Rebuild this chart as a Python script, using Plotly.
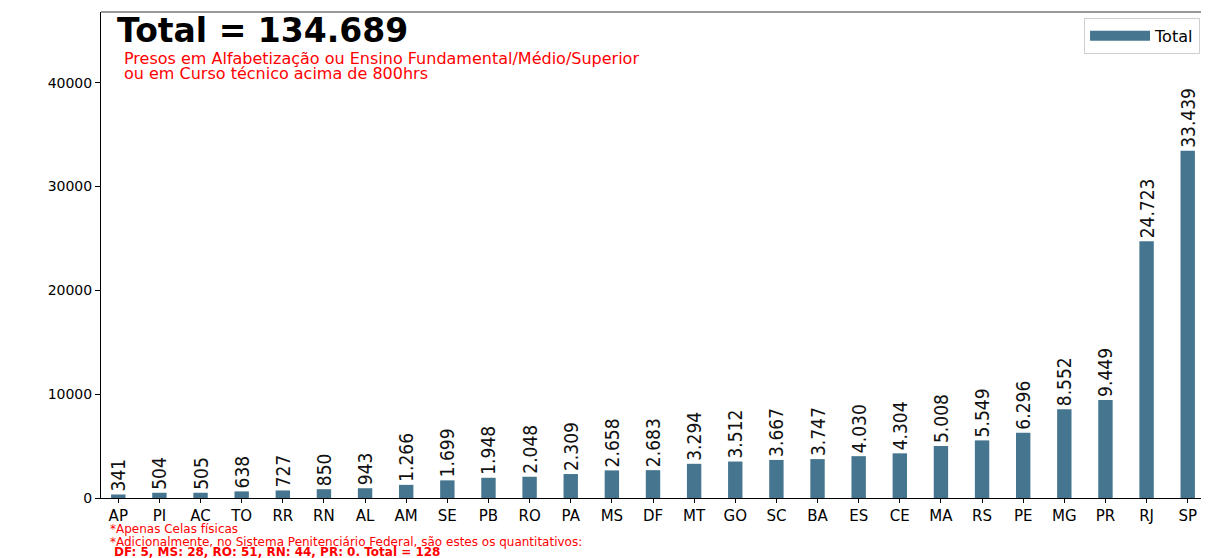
"""Presos em atividades educacionais por UF."""

import plotly.graph_objects as go

ESTADOS = [
    "AP", "PI", "AC", "TO", "RR", "RN", "AL", "AM", "SE", "PB", "RO", "PA", "MS", "DF",
    "MT", "GO", "SC", "BA", "ES", "CE", "MA", "RS", "PE", "MG", "PR", "RJ", "SP",
]
PRESOS = [
    341, 504, 505, 638, 727, 850, 943, 1266, 1699, 1948, 2048, 2309, 2658, 2683,
    3294, 3512, 3667, 3747, 4030, 4304, 5008, 5549, 6296, 8552, 9449, 24723, 33439,
]
Y_TICKS = [0, 10000, 20000, 30000, 40000]

TOTAL = sum(PRESOS)
COR_BARRA = "#46768f"
FONTE = "DejaVu Sans"
FONTE_ROTULO = "DejaVu Sans Condensed, Liberation Sans Narrow, DejaVu Sans"

fig = go.Figure()

fig.add_trace(go.Bar(
    x=ESTADOS,
    y=PRESOS,
    name="Total",
    width=0.35,
    showlegend=False,
    marker={"color": COR_BARRA, "line": {"width": 0}},
    texttemplate="%{y:,}",
    textposition="outside",
    textangle=-90,
    constraintext="none",
    cliponaxis=False,
    textfont={"family": FONTE_ROTULO, "size": 19, "color": "#111111"},
))

# entrada da legenda no estilo "patch" largo
fig.add_trace(go.Scatter(
    x=[None],
    y=[None],
    mode="lines",
    name="Total",
    line={"color": COR_BARRA, "width": 10},
))

# títulos e notas dentro/abaixo do gráfico
fig.add_annotation(
    text=f"<b>Total = {TOTAL:,}</b>".replace(",", "."),
    xref="paper", yref="paper", x=0.013, y=0.961,
    xanchor="left", yanchor="middle", showarrow=False,
    font={"family": FONTE, "size": 33, "color": "#000000"},
)
fig.add_annotation(
    text="Presos em Alfabetização ou Ensino Fundamental/Médio/Superior",
    xref="paper", yref="paper", x=0.019, y=0.905,
    xanchor="left", yanchor="middle", showarrow=False,
    font={"family": FONTE, "size": 16, "color": "#ff0000"},
)
fig.add_annotation(
    text="ou em Curso técnico acima de 800hrs",
    xref="paper", yref="paper", x=0.019, y=0.873,
    xanchor="left", yanchor="middle", showarrow=False,
    font={"family": FONTE, "size": 16, "color": "#ff0000"},
)
fig.add_annotation(
    text="*Apenas Celas físicas",
    xref="paper", yref="paper", x=0.006, y=-0.064,
    xanchor="left", yanchor="middle", showarrow=False,
    font={"family": FONTE, "size": 12, "color": "#ff0000"},
)
fig.add_annotation(
    text="*Adicionalmente, no Sistema Penitenciário Federal, são estes os quantitativos:",
    xref="paper", yref="paper", x=0.006, y=-0.090,
    xanchor="left", yanchor="middle", showarrow=False,
    font={"family": FONTE, "size": 12, "color": "#ff0000"},
)
fig.add_annotation(
    text="<b>DF: 5, MS: 28, RO: 51, RN: 44, PR: 0. Total = 128</b>",
    xref="paper", yref="paper", x=0.010, y=-0.112,
    xanchor="left", yanchor="middle", showarrow=False,
    font={"family": FONTE, "size": 12, "color": "#ff0000"},
)

# borda superior cinza
fig.add_shape(
    type="line", xref="paper", yref="paper",
    x0=0, x1=1.01, y0=1, y1=1,
    line={"color": "#999999", "width": 2},
)

fig.update_layout(
    width=1201,
    height=550,
    margin={"l": 93, "r": 4, "t": 4, "b": 60},
    paper_bgcolor="white",
    plot_bgcolor="white",
    separators=",.",
    showlegend=True,
    legend={
        "x": 0.9955, "y": 0.988, "xanchor": "right", "yanchor": "top",
        "bordercolor": "#d0d0d0", "borderwidth": 1, "bgcolor": "white",
        "itemwidth": 60,
        "font": {"family": FONTE, "size": 16, "color": "#000000"},
    },
    font={"family": FONTE, "color": "#000000"},
    xaxis={
        "range": [-0.42, 26.42],
        "showgrid": False,
        "showline": True,
        "linecolor": "#000000",
        "linewidth": 1,
        "ticks": "outside",
        "ticklen": 4,
        "tickcolor": "#000000",
        "tickfont": {"family": FONTE, "size": 15, "color": "#000000"},
        "zeroline": False,
    },
    yaxis={
        "range": [0, 46815],
        "tickvals": Y_TICKS,
        "tickformat": "d",
        "showgrid": False,
        "showline": True,
        "linecolor": "#000000",
        "linewidth": 1,
        "ticks": "outside",
        "ticklen": 5,
        "tickcolor": "#000000",
        "tickfont": {"family": FONTE, "size": 14, "color": "#000000"},
        "zeroline": False,
    },
)

fig.write_html("out.html")
